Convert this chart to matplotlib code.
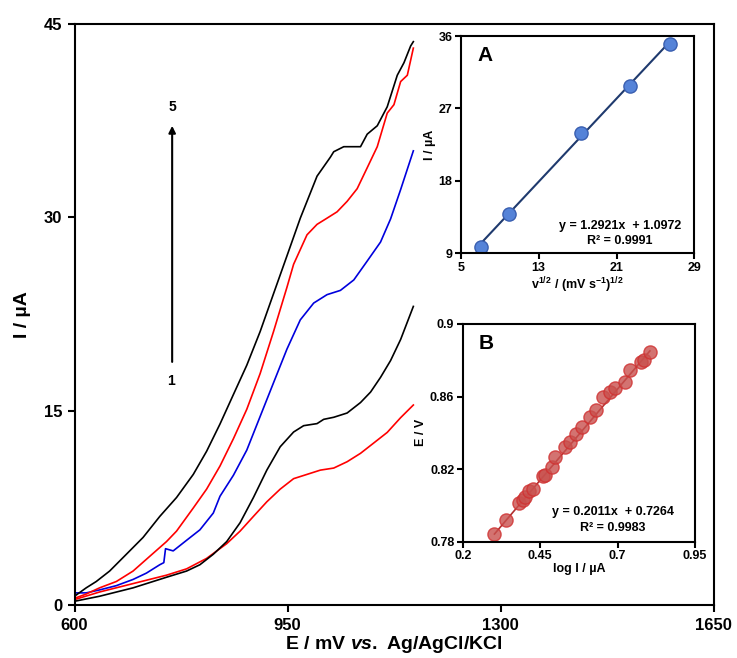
import matplotlib
matplotlib.use("Agg")
import matplotlib.pyplot as plt

plt.rcParams["font.family"] = ["Liberation Sans", "DejaVu Sans"]
plt.rcParams["font.weight"] = "bold"
plt.rcParams["mathtext.fontset"] = "custom"
plt.rcParams["mathtext.rm"] = "Liberation Sans:bold"
plt.rcParams["mathtext.it"] = "Liberation Sans:bold:italic"
plt.rcParams["mathtext.bf"] = "Liberation Sans:bold"

# LSV curves, E in mV, I in uA (curve 1 = slowest scan rate)
e1 = [600, 641.2, 696.2, 751.1, 784.1, 817.0, 850.0, 872.0, 893.9, 915.9, 937.9, 959.9, 981.9,
      1003.8, 1025.8, 1047.8, 1069.8, 1091.8, 1113.7, 1135.7, 1156.6]
i1 = [0.42, 1.01, 1.66, 2.31, 2.80, 3.61, 4.75, 5.72, 6.86, 7.99, 8.97, 9.78, 10.11,
      10.44, 10.60, 11.09, 11.74, 12.55, 13.36, 14.50, 15.48]

e2 = [600, 641.2, 696.2, 751.1, 784.1, 806.0, 828.0, 850.0, 872.0, 893.9, 915.9, 937.9, 959.9,
      976.4, 998.4, 1009.3, 1025.8, 1047.8, 1069.8, 1086.3, 1102.7, 1119.2, 1135.7, 1156.6]
i2 = [0.29, 0.68, 1.33, 2.15, 2.63, 3.12, 3.93, 4.91, 6.37, 8.32, 10.44, 12.25, 13.39,
      13.88, 14.04, 14.37, 14.53, 14.86, 15.67, 16.48, 17.62, 18.92, 20.55, 23.11]

e3 = [600, 619.2, 641.2, 668.7, 696.2, 718.1, 740.1, 746.7, 749.5, 762.1, 784.1, 806.0, 828.0,
      839.0, 861.0, 883.0, 904.9, 926.9, 948.9, 970.9, 992.9, 1014.8, 1036.8, 1058.8, 1080.8,
      1102.7, 1119.2, 1135.7, 1156.6]
i3 = [0.94, 0.94, 1.17, 1.50, 1.98, 2.47, 3.12, 3.28, 4.36, 4.19, 5.01, 5.82, 7.12,
      8.42, 10.04, 11.99, 14.59, 17.20, 19.80, 22.07, 23.37, 24.02, 24.35, 25.16, 26.62,
      28.09, 29.88, 32.15, 35.15]

e4 = [600, 619.2, 641.2, 668.7, 696.2, 723.6, 751.1, 767.6, 795.1, 817.0, 839.0, 861.0, 883.0,
      904.9, 926.9, 948.9, 959.9, 981.9, 998.4, 1014.8, 1031.3, 1047.8, 1064.3, 1080.8, 1097.3,
      1113.7, 1124.7, 1135.7, 1146.7, 1156.6]
i4 = [0.52, 0.85, 1.33, 1.82, 2.63, 3.77, 4.91, 5.72, 7.51, 8.97, 10.76, 12.87, 15.15,
      17.91, 21.16, 24.58, 26.37, 28.65, 29.46, 29.94, 30.43, 31.24, 32.22, 33.84, 35.47,
      38.07, 38.72, 40.51, 41.0, 43.1]

e5 = [600, 619.2, 635.7, 657.7, 685.2, 712.6, 740.1, 767.6, 795.1, 817.0, 839.0, 861.0, 883.0,
      904.9, 926.9, 948.9, 970.9, 998.4, 1020.3, 1025.8, 1042.3, 1069.8, 1080.8, 1097.3, 1113.7,
      1130.2, 1141.2, 1152.2, 1156.6]
i5 = [0.68, 1.33, 1.82, 2.63, 3.93, 5.23, 6.86, 8.32, 10.11, 11.90, 14.01, 16.29, 18.56,
      21.16, 24.09, 27.01, 29.94, 33.19, 34.66, 35.08, 35.47, 35.47, 36.44, 37.09, 38.56,
      41.0, 41.97, 43.27, 43.6]

# inset A: peak current vs square root of scan rate
sqrt_v = [7.07, 10.0, 17.32, 22.36, 26.46]
ip = [9.8, 13.9, 23.9, 29.8, 35.0]
slope_a, icpt_a = 1.2921, 1.0972

# inset B: Tafel plot
log_i = [0.3025, 0.3403, 0.3802, 0.3942, 0.3996, 0.4137, 0.4266, 0.4590, 0.4644, 0.4892,
         0.4968, 0.5291, 0.5453, 0.5669, 0.5863, 0.6101, 0.6295, 0.6532, 0.6748, 0.6910,
         0.7234, 0.7417, 0.7773, 0.7849, 0.8043]
e_v = [0.7841, 0.7920, 0.8011, 0.8029, 0.8044, 0.8077, 0.8090, 0.8164, 0.8169, 0.8210,
       0.8265, 0.8321, 0.8348, 0.8394, 0.8435, 0.8490, 0.8524, 0.8598, 0.8625, 0.8649,
       0.8681, 0.8745, 0.8791, 0.8804, 0.8847]

fig = plt.figure(figsize=(7.37, 6.58), dpi=100)
ax = fig.add_axes([0.1011, 0.0805, 0.8673, 0.8837])

lw = 1.2
ax.plot(e1, i1, color="red", lw=lw)
ax.plot(e2, i2, color="black", lw=lw)
ax.plot(e3, i3, color="#0000dd", lw=lw)
ax.plot(e4, i4, color="red", lw=lw)
ax.plot(e5, i5, color="black", lw=lw)

ax.set_xlim(600, 1650)
ax.set_ylim(0, 45)
ax.set_xticks([600, 950, 1300, 1650])
ax.set_yticks([0, 15, 30, 45])
ax.tick_params(direction="out", length=5, width=1.5, labelsize=12, pad=4)
for s in ax.spines.values():
    s.set_linewidth(1.5)
ax.set_xlabel("E / mV $\\mathit{vs.}\\ $Ag/AgCl/KCl", fontsize=14, fontweight="bold", labelpad=1)
ax.set_ylabel("I / µA", fontsize=14, fontweight="bold", labelpad=9)

ax.annotate("", xy=(760.4, 37.3), xytext=(760.4, 18.6),
            arrowprops=dict(arrowstyle="-|>", color="black", lw=1.5, mutation_scale=10))
ax.text(760.4, 38.0, "5", ha="center", va="bottom", fontsize=10, fontweight="bold")
ax.text(757.7, 17.9, "1", ha="center", va="top", fontsize=10, fontweight="bold")

# inset A
axa = fig.add_axes([0.6251, 0.6150, 0.3172, 0.3302])
xa = [sqrt_v[0], sqrt_v[-1]]
axa.plot(xa, [slope_a * x + icpt_a for x in xa], color="#1f3a6e", lw=1.5, zorder=1)
axa.plot(sqrt_v, ip, "o", ms=9.5, mfc="#5583d8", mec="#3a5fb0", mew=1, zorder=2)
axa.set_xlim(5, 29)
axa.set_ylim(9, 36)
axa.set_xticks([5, 13, 21, 29])
axa.set_yticks([9, 18, 27, 36])
axa.set_xlabel("v$^{1/2}$ / (mV s$^{-1}$)$^{1/2}$", fontsize=9, fontweight="bold", labelpad=1)
axa.set_ylabel("I / µA", fontsize=9, fontweight="bold", labelpad=2)
axa.text(0.07, 0.91, "A", transform=axa.transAxes, fontsize=15, fontweight="bold", va="center")
axa.text(0.68, 0.126, "y = 1.2921x  + 1.0972", transform=axa.transAxes, fontsize=9,
         fontweight="bold", ha="center", va="center")
axa.text(0.68, 0.056, "R² = 0.9991", transform=axa.transAxes, fontsize=9,
         fontweight="bold", ha="center", va="center")

# inset B
axb = fig.add_axes([0.6278, 0.1767, 0.3152, 0.3309])
xb = [log_i[0], log_i[-1]]
axb.plot(xb, [0.2011 * x + 0.7264 - 0.003 for x in xb], color="#b03030", lw=1.2, zorder=1)
axb.plot(log_i, e_v, "o", ms=9.5, mfc="#c8504d", mec="#d03030", mew=1, alpha=0.8, zorder=2)
axb.set_xlim(0.2, 0.95)
axb.set_ylim(0.78, 0.9)
axb.set_xticks([0.2, 0.45, 0.7, 0.95])
axb.set_xticklabels(["0.2", "0.45", "0.7", "0.95"])
axb.set_yticks([0.78, 0.82, 0.86, 0.9])
axb.set_yticklabels(["0.78", "0.82", "0.86", "0.9"])
axb.set_xlabel("log I / µA", fontsize=9, fontweight="bold", labelpad=1)
axb.set_ylabel("E / V", fontsize=9, fontweight="bold", labelpad=2)
axb.text(0.067, 0.91, "B", transform=axb.transAxes, fontsize=15, fontweight="bold", va="center")
axb.text(0.647, 0.136, "y = 0.2011x  + 0.7264", transform=axb.transAxes, fontsize=9,
         fontweight="bold", ha="center", va="center")
axb.text(0.647, 0.063, "R² = 0.9983", transform=axb.transAxes, fontsize=9,
         fontweight="bold", ha="center", va="center")

for a in (axa, axb):
    a.tick_params(direction="out", length=4, width=1.5, labelsize=9, pad=2)
    for s in a.spines.values():
        s.set_linewidth(1.5)

fig.savefig("out.png", dpi=100)
